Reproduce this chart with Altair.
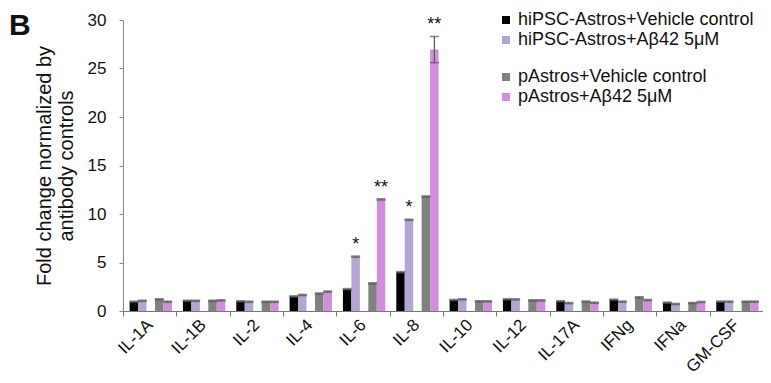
import altair as alt
import pandas as pd

cytokines = ["IL-1A", "IL-1B", "IL-2", "IL-4", "IL-6", "IL-8", "IL-10", "IL-12",
             "IL-17A", "IFNg", "IFNa", "GM-CSF"]

series_names = ["hiPSC-Astros+Vehicle control", "hiPSC-Astros+Aβ42 5μM",
                "pAstros+Vehicle control", "pAstros+Aβ42 5μM"]
series_group = ["hiPSC", "hiPSC", "pAstros", "pAstros"]
series_colors = ["#000000", "#b3a6d4", "#808080", "#d08fd9"]

hipsc_vehicle = [0.95, 1.05, 1.00, 1.50, 2.25, 4.00, 1.13, 1.20, 1.00, 1.16, 0.86, 0.96]
hipsc_abeta = [1.05, 1.05, 0.95, 1.65, 5.60, 9.40, 1.20, 1.20, 0.82, 0.96, 0.72, 0.96]
pastros_vehicle = [1.20, 1.05, 0.95, 1.80, 2.85, 11.80, 1.00, 1.10, 0.97, 1.40, 0.82, 0.96]
pastros_abeta = [0.95, 1.10, 0.95, 2.00, 11.50, 26.95, 1.00, 1.10, 0.85, 1.13, 0.93, 0.96]

hipsc_vehicle_err = [0.06] * 12
hipsc_abeta_err = [0.06] * 12
pastros_vehicle_err = [0.06] * 12
pastros_abeta_err = [0.06, 0.06, 0.06, 0.06, 0.06, 1.35, 0.06, 0.06, 0.06, 0.06, 0.06, 0.06]

hipsc_vehicle_sig = [""] * 12
hipsc_abeta_sig = ["", "", "", "", "*", "*", "", "", "", "", "", ""]
pastros_vehicle_sig = [""] * 12
pastros_abeta_sig = ["", "", "", "", "**", "**", "", "", "", "", "", ""]

values = [hipsc_vehicle, hipsc_abeta, pastros_vehicle, pastros_abeta]
errors = [hipsc_vehicle_err, hipsc_abeta_err, pastros_vehicle_err, pastros_abeta_err]
sigs = [hipsc_vehicle_sig, hipsc_abeta_sig, pastros_vehicle_sig, pastros_abeta_sig]

rows = []
for s, g, vals, errs, sg in zip(series_names, series_group, values, errors, sigs):
    for c, v, e, st in zip(cytokines, vals, errs, sg):
        rows.append({"cytokine": c, "series": s, "group": g, "value": v,
                     "lo": v - e, "hi": v + e, "star": st})
df = pd.DataFrame(rows)

FONT = "Liberation Sans"
slots = [series_names[0], series_names[1], " ", series_names[2], series_names[3]]

x_enc = alt.X("cytokine:N", sort=cytokines,
              scale=alt.Scale(paddingInner=0, paddingOuter=0),
              axis=alt.Axis(title=None, labelAngle=-45, labelFontSize=17,
                            labelColor="#111", tickBand="extent", tickSize=5,
                            tickColor="#777", domainColor="#777", labelPadding=6,
                            labelAlign="right", labelBaseline="middle"))
xo_enc = alt.XOffset("series:N",
                     scale=alt.Scale(domain=slots, paddingInner=0, paddingOuter=0.65, align=0.6))
y_enc = alt.Y("value:Q",
              scale=alt.Scale(domain=[0, 30], nice=False),
              axis=alt.Axis(values=[0, 5, 10, 15, 20, 25, 30], grid=False,
                            tickSize=4, labelPadding=13, labelFontSize=17, labelColor="#111",
                            tickColor="#888", domainColor="#888",
                            title=["Fold change normalized by", "antibody controls"],
                            titleFontSize=20, titleFontWeight="normal", titleColor="#111",
                            titlePadding=11, titleLineHeight=22))

base = alt.Chart(df)


def legend(ly):
    return alt.Legend(orient="none", legendX=374, legendY=ly, title=None,
                      symbolType="square", symbolSize=64, symbolStrokeWidth=0,
                      labelFontSize=18, labelColor="#111", labelOffset=3,
                      labelLimit=0, rowPadding=2, padding=0)


bars1 = base.transform_filter(alt.datum.group == "hiPSC").mark_bar().encode(
    x=x_enc, xOffset=xo_enc, y=y_enc,
    color=alt.Color("series:N",
                    scale=alt.Scale(domain=series_names[:2], range=series_colors[:2]),
                    legend=legend(-9)))
bars2 = base.transform_filter(alt.datum.group == "pAstros").mark_bar().encode(
    x=x_enc, xOffset=xo_enc, y=y_enc,
    color=alt.Color("series:N",
                    scale=alt.Scale(domain=series_names[2:], range=series_colors[2:]),
                    legend=legend(48)))

err_rule = base.mark_rule(color="#555", strokeWidth=1.2).encode(
    x=x_enc, xOffset=xo_enc, y=alt.Y("lo:Q"), y2="hi:Q")
cap_hi = base.mark_tick(orient="horizontal", size=9, thickness=1.5, color="#555").encode(
    x=x_enc, xOffset=xo_enc, y=alt.Y("hi:Q"))
cap_lo = base.mark_tick(orient="horizontal", size=9, thickness=1.5, color="#555").encode(
    x=x_enc, xOffset=xo_enc, y=alt.Y("lo:Q"))

stars = base.transform_filter(alt.datum.star != "").mark_text(
    fontSize=18, baseline="alphabetic", dy=-6, color="#111", font=FONT).encode(
    x=x_enc, xOffset=xo_enc, y=alt.Y("hi:Q"), text="star:N")

panel = alt.Chart(pd.DataFrame({"t": ["B"]})).mark_text(
    fontSize=30, fontWeight="bold", align="left", baseline="alphabetic", font=FONT,
    color="#111").encode(x=alt.value(-114), y=alt.value(15), text="t:N")

chart = alt.layer(bars1, bars2, err_rule, cap_hi, cap_lo, stars, panel).resolve_scale(
    color="independent"
).properties(
    width=640, height=291,
    padding={"left": 115, "top": 12, "right": 0, "bottom": 64},
    autosize=alt.AutoSizeParams(type="none"),
).configure(font=FONT).configure_view(stroke=None)

chart.save("out.html", embed_options={"renderer": "svg", "actions": False})
